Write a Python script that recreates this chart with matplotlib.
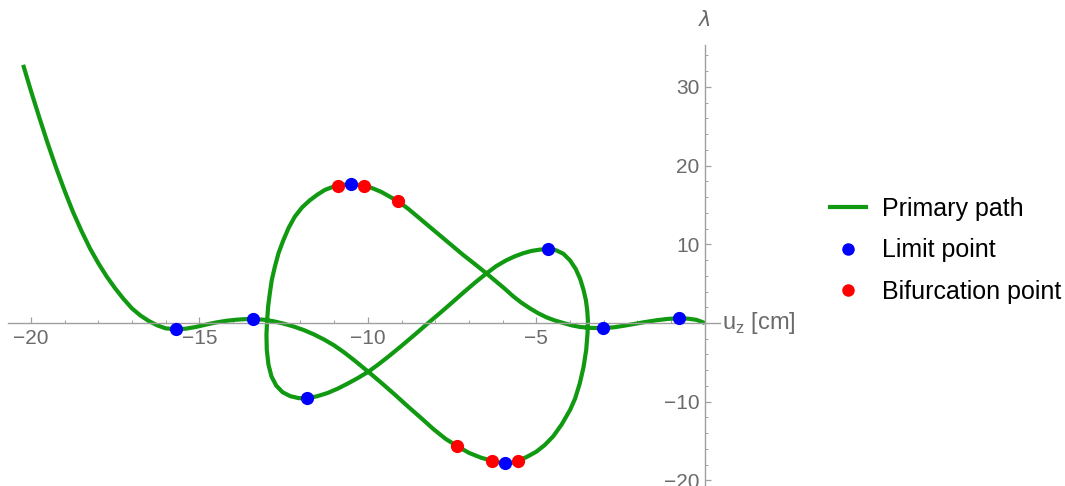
import matplotlib
matplotlib.use("Agg")
import matplotlib.pyplot as plt
from matplotlib.lines import Line2D

plt.rcParams['font.family'] = ['Liberation Sans', 'DejaVu Sans']

# Equilibrium path (u_z, lambda), traced in order along the path
path_x = [
    # descending branch to the first pair of limit points
    -20.23, -20.0, -19.75, -19.5, -19.25, -19.0, -18.75, -18.5, -18.25, -18.0,
    -17.75, -17.5, -17.25, -17.0, -16.75, -16.5, -16.25, -16.0, -15.68, -15.4,
    -15.1, -14.8, -14.5, -14.2, -13.9, -13.65, -13.4,
    # down into the lower loop and up the right-hand side
    -13.1, -12.8, -12.5, -12.2, -11.9, -11.6, -11.3, -11.0, -10.7, -10.4,
    -10.0, -9.6, -9.2, -8.8, -8.4, -8.05, -7.7, -7.35, -7.0, -6.65,
    -6.33, -6.1, -5.93, -5.75, -5.54, -5.3, -5.0, -4.75, -4.5, -4.25,
    -4.0, -3.85, -3.71, -3.6, -3.52, -3.48, -3.47, -3.49, -3.53, -3.6,
    -3.7, -3.83, -4.0, -4.2, -4.42, -4.65,
    # back across to the lower-left limit point
    -4.9, -5.15, -5.4, -5.65, -5.9, -6.2, -6.48, -6.8, -7.17, -7.5,
    -7.85, -8.21, -8.6, -9.0, -9.4, -9.7, -9.99, -10.3, -10.6, -10.9,
    -11.2, -11.5, -11.8,
    # up the left-hand side over the top of the upper loop
    -12.05, -12.3, -12.53, -12.72, -12.86, -12.95, -13.0, -13.01, -12.99, -12.96,
    -12.91, -12.85, -12.76, -12.65, -12.51, -12.35, -12.17, -11.95, -11.72, -11.5,
    -11.28, -11.1, -10.9, -10.7, -10.51, -10.3, -10.11, -9.85, -9.6, -9.35,
    -9.1, -8.8, -8.41, -8.1, -7.82, -7.5, -7.17, -6.8, -6.48, -6.2,
    # final descent to the origin
    -5.95, -5.69, -5.45, -5.19, -4.95, -4.7, -4.45, -4.2, -3.95, -3.71,
    -3.4, -3.03, -2.7, -2.4, -2.1, -1.8, -1.43, -1.1, -0.76, -0.5,
    -0.25, 0.0,
]
path_y = [
    32.8, 29.5, 26.1, 22.8, 19.7, 16.8, 14.1, 11.7, 9.5, 7.6,
    5.9, 4.4, 3.05, 1.85, 0.95, 0.25, -0.3, -0.68, -0.8, -0.72,
    -0.5, -0.2, 0.07, 0.28, 0.42, 0.49, 0.5,
    0.42, 0.22, -0.08, -0.45, -0.9, -1.45, -2.1, -2.85, -3.75, -4.75,
    -6.15, -7.6, -9.1, -10.65, -12.15, -13.5, -14.7, -15.65, -16.5, -17.1,
    -17.5, -17.72, -17.83, -17.78, -17.5, -17.05, -16.35, -15.5, -14.4, -12.9,
    -11.05, -9.6, -7.66, -5.6, -3.4, -1.2, 0.3, 1.6, 2.9, 4.2,
    5.6, 6.85, 7.95, 8.8, 9.25, 9.4,
    9.32, 9.15, 8.85, 8.45, 7.95, 7.2, 6.3, 5.2, 3.85, 2.6,
    1.3, 0.0, -1.45, -2.9, -4.3, -5.3, -6.2, -7.0, -7.7, -8.35,
    -8.9, -9.3, -9.57,
    -9.55, -9.3, -8.8, -7.95, -6.8, -5.3, -3.4, -1.5, 0.3, 2.1,
    3.77, 5.5, 7.16, 8.9, 10.5, 12.1, 13.5, 14.7, 15.6, 16.3,
    16.9, 17.2, 17.45, 17.58, 17.6, 17.56, 17.45, 17.1, 16.65, 16.05,
    15.45, 14.5, 13.1, 12.0, 11.0, 9.85, 8.64, 7.4, 6.3, 5.3,
    4.4, 3.4, 2.6, 1.86, 1.25, 0.72, 0.32, 0.0, -0.3, -0.5,
    -0.62, -0.65, -0.55, -0.35, -0.12, 0.1, 0.35, 0.52, 0.6, 0.55,
    0.4, 0.0,
]

# Critical points on the path
limit_x = [-15.68, -13.4, -11.8, -10.51, -5.93, -4.65, -3.03, -0.76]
limit_y = [-0.8, 0.5, -9.57, 17.6, -17.83, 9.4, -0.65, 0.6]
bif_x = [-10.9, -10.11, -9.1, -7.35, -6.33, -5.54]
bif_y = [17.45, 17.45, 15.45, -15.65, -17.5, -17.5]

x_major = [-20, -15, -10, -5]
y_major = [-20, -10, 10, 20, 30]

green = '#119a11'
axis_gray = '#a0a0a0'
text_gray = '#6a6a6a'

fig = plt.figure(figsize=(10.65, 4.86), dpi=100)
ax = fig.add_axes([8 / 1065, 0.0, 712 / 1065, 441 / 486])
ax.set_xlim(-20.68, 0.45)
ax.set_ylim(-20.71, 35.32)

ax.plot(path_x, path_y, color=green, lw=3.0, solid_joinstyle='round',
        solid_capstyle='butt', zorder=2)
ax.plot(limit_x, limit_y, 'o', color='#0000ff', ms=9.5, mec='none', zorder=3)
ax.plot(bif_x, bif_y, 'o', color='#ff0000', ms=9.5, mec='none', zorder=3)

for s in ('top', 'right'):
    ax.spines[s].set_visible(False)
ax.spines['left'].set_position(('data', 0))
ax.spines['bottom'].set_position(('data', 0))
for s in ('left', 'bottom'):
    ax.spines[s].set_color(axis_gray)
    ax.spines[s].set_linewidth(1.0)

ax.set_xticks(x_major)
ax.set_xticks(range(-20, 1), minor=True)
ax.set_yticks(y_major)
ax.set_yticks(range(-20, 36, 2), minor=True)
ax.set_xticklabels([f'\u2212{abs(v)}' for v in x_major])
ax.set_yticklabels([f'\u2212{abs(v)}' if v < 0 else str(v) for v in y_major])
ax.tick_params(which='both', direction='in', color=axis_gray, labelcolor=text_gray,
               labelsize=15)
ax.tick_params(which='major', length=4.5, width=0.9, pad=4)
ax.tick_params(which='minor', length=2.5, width=0.7)
ax.patch.set_alpha(0)

fig.text(722 / 1065, 1 - 323 / 486, r'u$_\mathregular{z}$ [cm]', color=text_gray,
         fontsize=17, ha='left', va='center')
fig.text(705 / 1065, 1 - 20 / 486, '\u03bb', color=text_gray, fontsize=15,
         style='italic', ha='center', va='center', family=['DejaVu Sans'])

handles = [
    Line2D([], [], color=green, lw=3.0),
    Line2D([], [], ls='none', marker='o', color='#0000ff', ms=9, mec='none'),
    Line2D([], [], ls='none', marker='o', color='#ff0000', ms=9, mec='none'),
]
labels = ['Primary path', 'Limit point', 'Bifurcation point']
fig.legend(handles, labels, loc='upper left', bbox_to_anchor=(830 / 1065, 1 - 197 / 486),
           frameon=False, fontsize=18, handlelength=1.44, handletextpad=0.64,
           labelspacing=0.7, borderaxespad=0, borderpad=0)

fig.savefig('out.png', dpi=100)
